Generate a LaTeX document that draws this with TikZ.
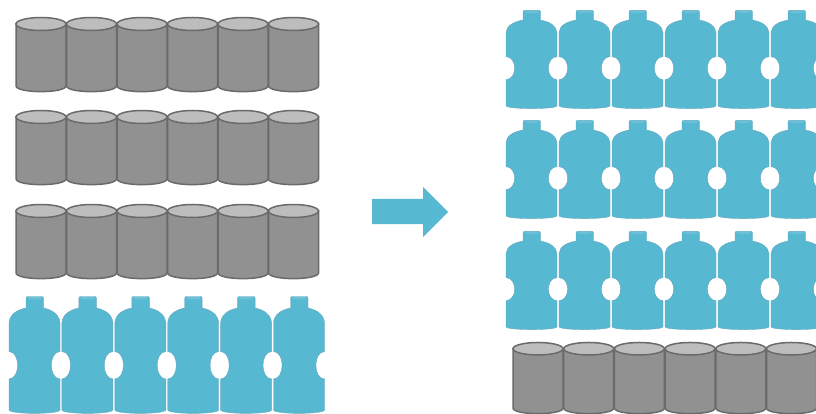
\documentclass[tikz,border=0pt]{standalone}
\usepackage{tikz}
\definecolor{bottleblue}{HTML}{57B8D2}
\definecolor{bottleedge}{HTML}{6AA9BD}
\definecolor{bottlecap}{HTML}{6CC0D8}
\definecolor{canbody}{HTML}{919191}
\definecolor{cantop}{HTML}{BDBDBD}
\definecolor{canedge}{HTML}{6A6A6A}
\tikzset{
  bottlefill/.style={fill=bottleblue, draw=bottleedge, line width=0.4pt},
  canfill/.style={fill=canbody, draw=canedge, line width=1.5pt},
  canlid/.style={fill=cantop, draw=canedge, line width=1.5pt},
  bottle/.pic={
    \path[bottlefill] (17,2) .. controls (17,0.8) and (18,0.5) .. (19,0.5) -- (32.5,0.5)
      .. controls (33.5,0.5) and (34.5,0.8) .. (34.5,2) -- (34.5,12)
      .. controls (44,14) and (50.5,19) .. (51,27) -- (51,55.5)
      .. controls (39.5,56) and (39.5,82.5) .. (51,83) -- (51,114)
      .. controls (50,118.5) and (1,118.5) .. (0,114) -- (0,83)
      .. controls (11.5,82.5) and (11.5,56) .. (0,55.5) -- (0,27)
      .. controls (0.5,19) and (7,14) .. (17,12) -- cycle;
    \fill[bottlecap] (25.7,2.2) ellipse (7.5 and 1.4);
  },
  can/.pic={
    \path[canfill] (0,7) -- (0,69) .. controls (1,76.5) and (49,76.5) .. (50,69) -- (50,7) -- cycle;
    \path[canlid] (25,7) ellipse (25 and 6.5);
  },
}
\begin{document}
\begin{tikzpicture}[x=1pt,y=-1pt]
  \clip (0,0) rectangle (816,414);
  % left rows
  \foreach \y in {17,110,204}
    \foreach \i in {0,...,5}
      \pic at ({16+50.5*\i},\y) {can};
  \foreach \i in {0,...,5}
    \pic at ({9+52.9*\i},296) {bottle};
  % arrow
  \fill[bottleblue] (372,199) -- (423,199) -- (423,187) -- (448,212) -- (423,237) -- (423,224) -- (372,224) -- cycle;
  % right rows
  \foreach \y in {10,120,231}
    \foreach \i in {0,...,5}
      \pic[yscale=0.84] at ({506+53*\i},\y) {bottle};
  \foreach \i in {0,...,5}
    \pic[yscale=0.96] at ({513+50.7*\i},342) {can};
\end{tikzpicture}
\end{document}
